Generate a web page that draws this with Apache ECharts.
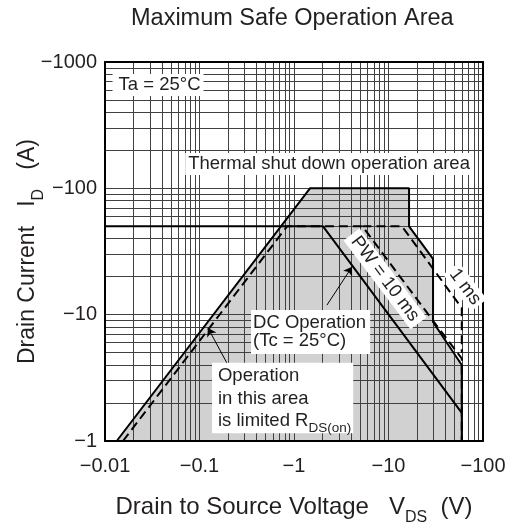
<!DOCTYPE html>
<html lang="en">
<head>
  <meta charset="UTF-8">
  <title>Maximum Safe Operation Area</title>
  <script src="https://cdn.jsdelivr.net/npm/echarts@6/dist/echarts.min.js"></script>
</head>
<body style="margin:0;background:#fff">
  <div id="main" style="width:516px;height:529px;"></div>
  <script type="text/javascript">
    var myChart = echarts.init(document.getElementById('main'));

    const FONT = '"Liberation Sans", Arial, Helvetica, sans-serif';
    const INK = '#231f20';

    // axis ticks (the datasheet prints them as negative values)
    const xTicks = [0.01, 0.1, 1, 10, 100];
    const xTickLabels = ['\u22120.01', '\u22120.1', '\u22121', '\u221210', '\u2212100'];
    const yTicks = [1, 10, 100, 1000];
    const yTickLabels = ['\u22121', '\u221210', '\u2212100', '\u22121000'];

    // safe operation area outline, VDS (V) / ID (A)
    const soaV = [0.0133, 1.476, 16.5, 16.5, 29.6, 29.6, 59.6, 59.6];
    const soaI = [1, 100, 100, 50, 27.6, 8.75, 4.0, 1];
    // DC operation (Tc = 25°C)
    const dcV = [0.01, 2.03, 59.6];
    const dcI = [50, 50, 1.67];
    // PW = 10 ms, starts on the RDS(on) limit
    const pw10V = [0.0155, 0.845, 5.3, 29.6, 59.6, 59.6];
    const pw10I = [1, 50, 50, 8.95, 4.5, 1];
    // PW = 1 ms
    const pw1V = [5.3, 13.9, 59.6, 59.6];
    const pw1I = [50, 50, 11.3, 5];

    const noteTexts = [
      'Ta = 25\u00b0C',
      'Thermal shut down operation area',
      'PW = 10 ms',
      '1 ms',
      'DC Operation\n(Tc = 25\u00b0C)',
      'Operation\nin this area\nis limited R{sub|DS(on)}'
    ];

    function zip(a, b) {
      return a.map((v, i) => [v, b[i]]);
    }

    function tickLabel(ticks, labels) {
      return function (v) {
        let best = 0;
        ticks.forEach((t, i) => {
          if (Math.abs(Math.log10(t / v)) < Math.abs(Math.log10(ticks[best] / v))) best = i;
        });
        return labels[best];
      };
    }

    // log grid: 1..9 in every decade, edges are the frame
    const gridLines = [];
    for (let d = 0; d < xTicks.length - 1; d++) {
      for (let k = 1; k <= 9; k++) {
        if (d === 0 && k === 1) continue;
        gridLines.push({ xAxis: xTicks[d] * k });
      }
    }
    for (let d = 0; d < yTicks.length - 1; d++) {
      for (let k = 1; k <= 9; k++) {
        if (d === 0 && k === 1) continue;
        gridLines.push({ yAxis: yTicks[d] * k });
      }
    }

    const txt = { fontFamily: FONT, color: INK };
    const noteBase = Object.assign({
      show: true,
      position: 'inside',
      fontSize: 18.5,
      opacity: 1,
      textBorderWidth: 0,
      textShadowBlur: 0,
      backgroundColor: '#fff'
    }, txt);

    const notes = [
      { value: [0.0364, 659], label: Object.assign({}, noteBase, { formatter: noteTexts[0], padding: [2, 3, 1, 6] }) },
      { value: [2.35, 156], label: Object.assign({}, noteBase, { formatter: noteTexts[1], padding: [2, 3, 1, 3] }) },
      { value: [9.19, 19.2], label: Object.assign({}, noteBase, { formatter: noteTexts[2], rotate: -53, padding: [1, 5, 0, 5] }) },
      { value: [64.6, 16.6], label: Object.assign({}, noteBase, { formatter: noteTexts[3], rotate: -53, padding: [1, 3, 0, 3] }) },
      { value: [0.351, 7.3], label: Object.assign({}, noteBase, { formatter: noteTexts[4], align: 'left', lineHeight: 18.5, padding: [4, 4, 3, 2] }) },
      { value: [0.1355, 2.19], label: Object.assign({}, noteBase, {
          formatter: noteTexts[5], align: 'left', lineHeight: 22.5, padding: [2, 2, 1, 6],
          rich: { sub: Object.assign({ fontSize: 13.5, lineHeight: 13.5, verticalAlign: 'top', padding: [12, 0, 0, 0] }, txt) }
        }) }
    ];

    const frameLine = { show: true, onZero: false, lineStyle: { color: '#000', width: 2 } };

    const option = {
      animation: false,
      backgroundColor: '#fff',
      title: {
        text: 'Maximum Safe Operation Area',
        left: 126,
        top: 2,
        textStyle: Object.assign({ fontSize: 23.5, fontWeight: 'normal' }, txt)
      },
      grid: { left: 105, right: 33, top: 62, bottom: 88, containLabel: false, outerBoundsMode: 'none' },
      xAxis: [{
        type: 'log', logBase: 10, min: 0.01, max: 100, position: 'bottom', z: 10,
        axisLine: frameLine, axisTick: { show: false }, splitLine: { show: false },
        axisLabel: Object.assign({ formatter: tickLabel(xTicks, xTickLabels), margin: 15, fontSize: 20 }, txt),
        name: 'Drain to Source Voltage   V{sub|DS}  (V)',
        nameLocation: 'middle', nameGap: 54, nameMoveOverlap: false,
        nameTextStyle: Object.assign({
          fontSize: 24, lineHeight: 25,
          rich: { sub: Object.assign({ fontSize: 16, lineHeight: 16, verticalAlign: 'top', padding: [15, 0, 0, 0] }, txt) }
        }, txt)
      }, {
        type: 'log', logBase: 10, min: 0.01, max: 100, position: 'top', z: 10,
        axisLine: frameLine, axisTick: { show: false }, axisLabel: { show: false }, splitLine: { show: false }
      }],
      yAxis: [{
        type: 'log', logBase: 10, min: 1, max: 1000, position: 'left', z: 10,
        axisLine: frameLine, axisTick: { show: false }, splitLine: { show: false },
        axisLabel: Object.assign({ formatter: tickLabel(yTicks, yTickLabels), margin: 8, fontSize: 20 }, txt),
        name: 'Drain Current   I{sub|D}   (A)',
        nameLocation: 'middle', nameGap: 65, nameMoveOverlap: false,
        nameTextStyle: Object.assign({
          fontSize: 23, lineHeight: 24,
          rich: { sub: Object.assign({ fontSize: 16, lineHeight: 16, verticalAlign: 'top', padding: [15, 0, 0, 0] }, txt) }
        }, txt)
      }, {
        type: 'log', logBase: 10, min: 1, max: 1000, position: 'right', z: 10,
        axisLine: frameLine, axisTick: { show: false }, axisLabel: { show: false }, splitLine: { show: false }
      }],
      series: [{
        name: 'area',
        type: 'line',
        z: 1,
        silent: true,
        symbol: 'none',
        data: zip(soaV, soaI),
        lineStyle: { opacity: 0 },
        areaStyle: { color: '#d1d1d1', opacity: 1, origin: 'start' },
        markLine: {
          z: 5,
          silent: true,
          animation: false,
          symbol: ['none', 'none'],
          label: { show: false },
          emphasis: { disabled: true },
          lineStyle: { color: '#404040', width: 1, type: 'solid' },
          data: gridLines
        }
      }, {
        name: 'SOA',
        type: 'line',
        z: 15,
        silent: true,
        symbol: 'none',
        data: zip(soaV, soaI),
        lineStyle: { color: '#000', width: 2 }
      }, {
        name: 'DC',
        type: 'line',
        z: 15,
        silent: true,
        symbol: 'none',
        data: zip(dcV, dcI),
        lineStyle: { color: '#000', width: 2 },
        markLine: {
          z: 18,
          silent: true,
          animation: false,
          symbol: ['none', 'arrow'],
          symbolSize: 8,
          label: { show: false },
          lineStyle: { color: '#000', width: 1, type: 'solid' },
          data: [
            [{ coord: [2.23, 11.9] }, { coord: [4.11, 23.9] }],
            [{ coord: [0.200, 4.0] }, { coord: [0.123, 7.85] }]
          ]
        }
      }, {
        name: 'PW 10 ms',
        type: 'line',
        z: 15,
        silent: true,
        symbol: 'none',
        data: zip(pw10V, pw10I),
        lineStyle: { color: '#000', width: 2, type: [9, 5] }
      }, {
        name: 'PW 1 ms',
        type: 'line',
        z: 15,
        silent: true,
        symbol: 'none',
        data: zip(pw1V, pw1I),
        lineStyle: { color: '#000', width: 2, type: [9, 5] }
      }, {
        name: 'notes',
        type: 'scatter',
        z: 20,
        silent: true,
        symbolSize: 0,
        itemStyle: { color: '#fff', opacity: 1 },
        emphasis: { disabled: true },
        data: notes
      }]
    };

    myChart.setOption(option);
  </script>
</body>
</html>
